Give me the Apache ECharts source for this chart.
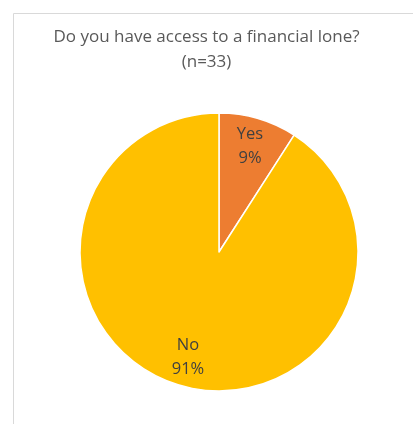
<!DOCTYPE html>
<html><head><meta charset="utf-8">
<style>html,body{margin:0;padding:0;background:#fff}#c{width:413px;height:424px}</style>
<script src="https://cdn.jsdelivr.net/npm/echarts@6/dist/echarts.min.js"></script>
</head><body><div id="c"></div>
<script>
const titleLines = ["Do you have access to a financial lone?", "(n=33)"];
const categories = ["Yes", "No"];
const counts = [3, 30];
const colors = ["#ED7D31", "#FFC000"];

const data = categories.map((c, i) => ({ name: c, value: counts[i], itemStyle: { color: colors[i] } }));
const chart = echarts.init(document.getElementById('c'), null, { renderer: 'canvas' });
const fontFamily = "'Open Sans', 'Noto Sans', sans-serif";
chart.setOption({
  animation: false,
  title: {
    text: titleLines.join('\n'),
    left: 'center', top: 20,
    textStyle: { fontFamily, fontSize: 17, fontWeight: 'normal', color: '#595959', lineHeight: 25 }
  },
  graphic: [{
    type: 'rect', shape: { x: 13.5, y: 13.5, width: 600, height: 600 },
    style: { fill: 'none', stroke: '#d9d9d9', lineWidth: 1 }, silent: true, z: -1
  }],
  series: [{
    type: 'pie', center: [219, 252], radius: 139, startAngle: 90, clockwise: true,
    data,
    label: { show: false }, labelLine: { show: false },
    itemStyle: { borderColor: '#fff', borderWidth: 1.5 },
    emphasis: { disabled: true }
  }, {
    type: 'pie', center: [219, 252], radius: 214, startAngle: 90, clockwise: true,
    data: data.map(d => ({ name: d.name, value: d.value })),
    silent: true,
    itemStyle: { color: 'rgba(0,0,0,0)' },
    label: {
      show: true, position: 'inside',
      formatter: p => p.name + '\n' + Math.round(p.percent) + '%',
      fontFamily, fontSize: 16.5, color: '#404040', lineHeight: 24
    },
    labelLine: { show: false },
    emphasis: { disabled: true }
  }]
});
</script></body></html>
